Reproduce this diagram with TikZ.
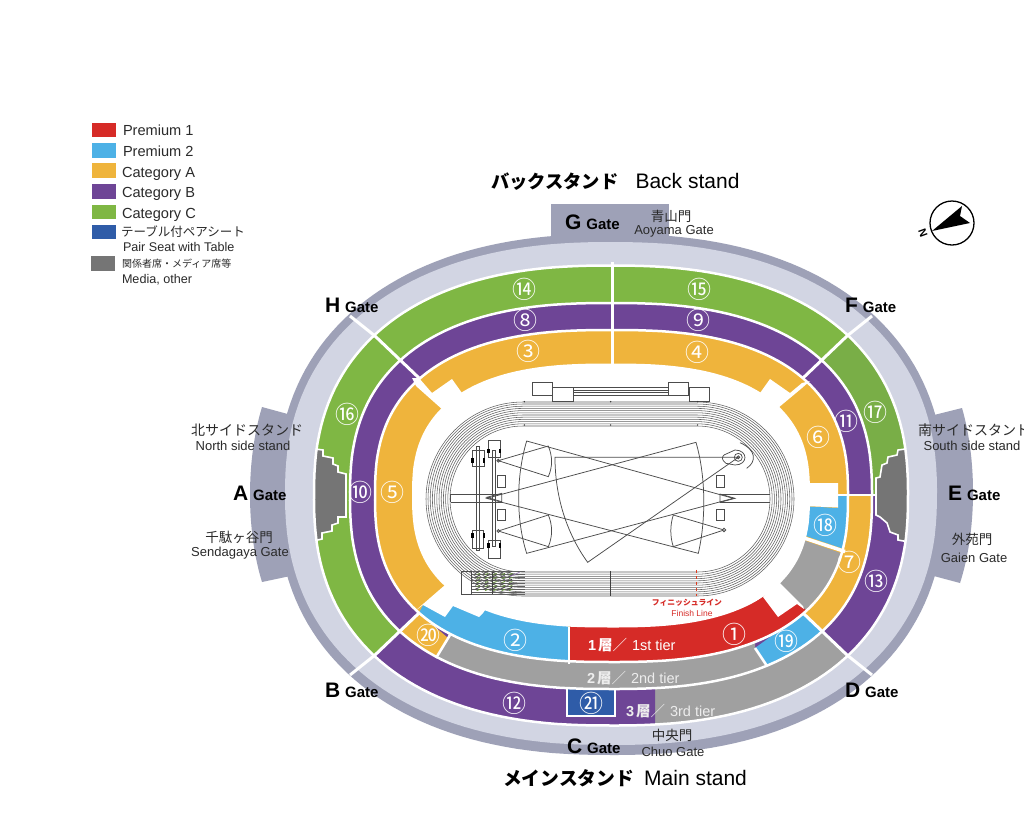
\documentclass[tikz,border=0pt]{standalone}
\usepackage{fontspec}
\setmainfont{Liberation Sans}
\newfontfamily\jp{Noto Sans CJK JP}
\definecolor{cRed}{HTML}{D62B27}
\definecolor{cBlue}{HTML}{4DB1E6}
\definecolor{cYel}{HTML}{EFB43C}
\definecolor{cPur}{HTML}{6E4596}
\definecolor{cGrn}{HTML}{7FB744}
\definecolor{cGrnB}{HTML}{79AE47}
\definecolor{cGry}{HTML}{A0A0A0}
\definecolor{cPair}{HTML}{2F5CA8}
\definecolor{cMed}{HTML}{757575}
\definecolor{cLight}{HTML}{D2D5E3}
\definecolor{cDark}{HTML}{9EA1B7}
\definecolor{cTxt}{HTML}{2A2A2A}
\newcommand\ovalpath[5]{plot[domain=0.5:360.5,samples=181,variable=\t]
  ({#1+#3*(cos(\t)<0?-1:1)*abs(cos(\t))^(2/#5)},{#2-#4*(sin(\t)<0?-1:1)*abs(sin(\t))^(2/#5)}) -- cycle}
\newcommand\fs[1]{\fontsize{#1}{#1}\selectfont}
\newcommand\gatetext[1]{{\fs{21}\bfseries #1}\hspace{5pt}{\fs{15}\bfseries Gate}}
\tikzset{
  lbl/.style={inner sep=0pt,outer sep=0pt,text=cTxt},
  num/.style={inner sep=0pt,outer sep=0pt,text=white,font=\jp\fs{24}},
  tier/.style={inner sep=0pt,outer sep=0pt,text=white},
  gatelbl/.style={inner sep=0pt,outer sep=0pt,anchor=base west,text=black},
  sep/.style={draw=white,line width=3pt},
  fieldline/.style={draw=black!70,line width=0.75pt},
  lane/.style={draw=black!62,line width=0.55pt},
}
\begin{document}
\begin{tikzpicture}[x=1pt,y=-1pt]
\useasboundingbox (0,0) rectangle (1024,831);
\fill[white] (0,0) rectangle (1024,831);
% ---- outer band and gates
\fill[cDark] \ovalpath{611}{494.5}{334}{260.5}{2.3};
\fill[cDark] (551,204) -- (669,204) -- (669,240) -- (551,240) -- cycle;
\fill[cDark] (262,407) -- (295,416) -- (295,575) -- (262,582) .. controls (246,530) and (246,460) .. cycle;
\fill[cDark] (962,408) -- (930,416) -- (930,575) -- (960,583) .. controls (977,530) and (977,460) .. cycle;
\fill[cLight] \ovalpath{611}{493.5}{326}{251.5}{2.3};
% ---- third tier
\begin{scope}
\clip \ovalpath{611}{495.5}{297}{230}{2.4};
\fill[cGrn] (280,240) rectangle (940,750);
\fill[cGrnB] (803,378) -- (872,316) -- (950,400) -- (950,495) -- (840,495) -- cycle;
\fill[cPur] (840,495) -- (950,495) -- (950,730) -- (872,675) -- (847,655) -- (803,613) -- cycle;
\fill[cGry] (655,600) -- (803,613) -- (847,655) -- (872,675) -- (900,780) -- (655,780) -- cycle;
\fill[cPur] (655,600) -- (655,780) -- (350,780) -- (350,675) -- (375,655) -- (419,613) -- cycle;
\filldraw[fill=cMed,draw=white,line width=1.6pt] (300,447) -- (323,450) -- (323,456) -- (333,458) -- (333,464) -- (338,466) -- (338,472) -- (346,474) -- (346,517) -- (338,517) -- (338,523) -- (332,525) -- (332,531) -- (322,533) -- (322,539) -- (300,544) -- cycle;
\filldraw[fill=cMed,draw=white,line width=1.6pt] (920,447) -- (898,450) -- (897,455) -- (888,457) -- (887,463) -- (882,465) -- (880,477) -- (876,478) -- (876,515) -- (880,517) -- (887,523) -- (890,532) -- (898,535) -- (898,540) -- (920,544) -- cycle;
\filldraw[fill=cPair,draw=white,line width=2pt] (567,680) rectangle (615,716);
\end{scope}
\draw[white,line width=2.5pt] \ovalpath{611}{495.5}{297}{230}{2.4};
% ---- second tier
\begin{scope}
\clip \ovalpath{611}{496}{261}{193}{2.5};
\fill[cPur] (340,290) rectangle (880,700);
\fill[cYel] (830,496) -- (900,496) -- (900,700) -- (818,628) -- (803,613) -- cycle;
\fill[cBlue] (803,613) -- (818,628) -- (847,655) -- (780,690) -- (767,666) -- (755,648) -- cycle;
\fill[cYel] (419,613) -- (375,655) -- (425,700) -- (438,655) -- (448,638) -- cycle;
\fill[cGry] (755,620) -- (755,648) -- (767,666) -- (780,700) -- (425,700) -- (438,655) -- (448,638) -- (448,620) -- cycle;
\end{scope}
\draw[white,line width=2.5pt] \ovalpath{611}{496}{261}{193}{2.5};
% ---- first tier
\begin{scope}
\clip \ovalpath{611.5}{496}{236.5}{166}{2.55};
\fill[cYel] (370,325) rectangle (855,670);
\fill[cBlue] (568,590) -- (568,675) -- (400,675) -- (419,613) -- (423,605) -- (445,590) -- cycle;
\fill[cRed] (570,590) -- (800,590) -- (812,620) -- (750,690) -- (570,690) -- cycle;
\fill[cBlue] (800,506) -- (838,508) -- (838,496) -- (852,496) -- (852,550) -- (841,548) -- (803,535) -- cycle;
\fill[cGry] (800,539) -- (838,552) -- (852,558) -- (806,610) -- (770,575) -- cycle;
\end{scope}
\draw[white,line width=2.5pt] \ovalpath{611.5}{496}{236.5}{166}{2.55};
% ---- inner white field and cut-outs
\fill[white] \ovalpath{611}{495.5}{199}{132}{2.6};
\fill[white] (412,378) -- (419,378) -- (432,393) -- (452,379) -- (462,393) -- (480,400) -- (445,415) -- (443,410) -- (416,386) -- cycle;
\fill[white] (810,381) -- (802,383) -- (790,393) -- (770,379) -- (760,393) -- (745,400) -- (770,420) -- (778,408) -- (802,388) -- cycle;
\fill[white] (445,585) -- (415,611) -- (423,605) -- (445,617) -- (453,606) -- (479,617) -- (483,613) -- (500,590) -- cycle;
\fill[white] (805,483) -- (838,483) -- (838,507.5) -- (805,506) -- cycle;
\fill[cRed] (735,616) -- (763,597) -- (778,617) -- (760,632) -- cycle;
\fill[white] (763,597) -- (778,617) -- (797,604) -- (804,609) -- (803,606) -- (779,582) -- cycle;
% ---- separators
\coordinate (fa) at (872,316); \coordinate (fb) at (803,378);
\coordinate (ha) at (350,316); \coordinate (hb) at (419,378);
\coordinate (da) at (872,675); \coordinate (db) at (803,613);
\coordinate (ba) at (350,675); \coordinate (bb) at (419,613);
\draw[sep] (fa) -- (847,336) -- (fb);
\draw[sep] (ha) -- (375,336) -- (hb);
\draw[sep] (da) -- (847,655) -- (db);
\draw[sep] (ba) -- (375,655) -- (bb);
\draw[sep] (612.5,262) -- (612.5,366);
\draw[white,line width=2.5pt] (450,635) -- (436,658);
\draw[white,line width=2.5pt] (755,648) -- (767,666);
\draw[white,line width=2.5pt] (569,627) -- (569,664);
\draw[white,line width=2pt] (838,495) -- (876,495);
\draw[white,line width=3.5pt] (801,537) -- (845,551.5);
% ---- track
\foreach \r in {73,75.2,77.4,79.6,81.8,84,86.2,88.4,90.6,92.8,95,97}{
  \draw[lane] (523,499-\r) -- (697,499-\r) arc[start angle=90,end angle=-90,radius=\r pt] -- (523,499+\r) arc[start angle=-90,end angle=-270,radius=\r pt] -- cycle;
}
% ---- field, in reference-crop units
\begin{scope}[shift={(420,370)},x=0.3333pt,y=-0.3333pt]
\draw[fieldline] (338,36) rectangle (398,75);
\draw[fieldline] (398,52) rectangle (460,95);
\draw[fieldline] (745,36) rectangle (805,75);
\draw[fieldline] (808,52) rectangle (868,95);
\foreach \y in {52,60,68,76}{\draw[fieldline,line width=0.4pt] (460,\y) -- (745,\y);}
\draw[fieldline] (92,372) -- (245,372);
\draw[fieldline] (92,397) -- (245,397);
\draw[fieldline] (92,372) -- (92,397);
\draw[fieldline] (900,372) -- (1050,372);
\draw[fieldline] (900,397) -- (1050,397);
\draw[fieldline] (200,382) -- (245,370) -- (245,395) -- cycle;
\draw[fieldline] (900,372) -- (945,385) -- (900,397) -- cycle;
\draw[fieldline] (170,228) rectangle (178,540);
\draw[fieldline] (218,240) rectangle (226,530);
\draw[fieldline] (158,240) rectangle (192,290);
\draw[fieldline] (205,210) rectangle (240,262);
\draw[fieldline] (158,480) rectangle (190,535);
\draw[fieldline] (205,510) rectangle (240,565);
\foreach \p in {(158,272),(192,272),(205,243),(240,243),(158,497),(192,497),(205,527),(240,527)}{
  \fill[black] \p ++(-4,-7) rectangle ++(8,14);
}
\draw[fieldline] (233,317) rectangle (255,352);
\draw[fieldline] (233,417) rectangle (255,452);
\draw[fieldline] (888,317) rectangle (912,352);
\draw[fieldline] (888,417) rectangle (912,452);
% small fans
\draw[fieldline] (235,272) -- (385,228) .. controls (398,260) and (398,290) .. (385,320) -- cycle;
\draw[fieldline] (235,483) -- (385,435) .. controls (398,465) and (398,500) .. (385,530) -- cycle;
\draw[fieldline] (912,480) -- (760,435) .. controls (750,465) and (750,500) .. (760,530) -- cycle;
% big fans
\draw[fieldline] (940,385) -- (320,213) .. controls (288,320) and (288,450) .. (320,550) -- cycle;
\draw[fieldline] (200,385) -- (828,217) .. controls (858,320) and (858,450) .. (835,550) -- cycle;
\draw[fieldline] (955,262) -- (405,262) .. controls (405,380) and (440,490) .. (503,577) -- cycle;
\draw[fieldline] (955,262) circle[radius=4pt];
\draw[fieldline] (955,262) circle[radius=1.5pt];
\draw[fieldline] (912,255) -- (945,240) .. controls (985,240) and (985,285) .. (945,285) -- (918,280) .. controls (905,270) and (905,262) .. (912,255);
\draw[fieldline] (960,218) .. controls (1010,240) and (1010,275) .. (980,295);
\draw[fieldline] (235,272) circle[radius=1.5pt];
\draw[fieldline] (235,483) circle[radius=1.5pt];
\draw[fieldline] (912,480) circle[radius=1.8pt];
% start area
\draw[fieldline] (125,605) rectangle (155,672);
\foreach \y in {605,613,622,631,640,649,658,666,672}{\draw[lane] (155,\y) -- (315,\y);}
\foreach \x in {165,190,215,240,262}{\foreach \y in {610,622,634,646,658}{
  \draw[black!70,line width=0.8pt] (\x,\y) -- ++(14,-6);
  \draw[cGrn!80!black,line width=0.7pt] (\x+5,\y+4) -- ++(10,-4);
}}
\draw[cPur!70,line width=0.6pt] (270,620) -- (300,606);
\draw[black!75,line width=0.9pt] (572,603) -- (572,678);
\draw[black!75,line width=0.8pt] (218,605) -- (218,672);
\draw[cRed!80!orange,line width=0.8pt,dashed] (830,600) -- (830,678);
\foreach \x in {313,572,833}{\fill[black!80] (\x,95) circle[radius=0.8pt]; \fill[black!80] (\x,165) circle[radius=0.8pt];}
\end{scope}
% ---- seat numbers
\node[num] (s1) at (734,634) {①};
\node[num] (s2) at (515,640) {②};
\node[num] (s3) at (528,351) {③};
\node[num] (s4) at (697,352) {④};
\node[num] (s5) at (392,492) {⑤};
\node[num] (s6) at (818,437) {⑥};
\node[num] (s7) at (849,562) {⑦};
\node[num] (s8) at (525,320) {⑧};
\node[num] (s9) at (698,320) {⑨};
\node[num] (s10) at (360,492) {⑩};
\node[num] (s11) at (846,421) {⑪};
\node[num] (s12) at (514,703) {⑫};
\node[num] (s13) at (876,581) {⑬};
\node[num] (s14) at (524,289) {⑭};
\node[num] (s15) at (699,289) {⑮};
\node[num] (s16) at (347,414) {⑯};
\node[num] (s17) at (875,412) {⑰};
\node[num] (s18) at (825,525) {⑱};
\node[num] (s19) at (786,641) {⑲};
\node[num] (s20) at (428,635) {⑳};
\node[num] (s21) at (591,703) {㉑};
% ---- tier labels
\node[tier,anchor=base west] (t1) at (588,650) {\fs{14.5}\textbf{1}\hspace{2pt}{\jp\bfseries 層}{\jp ／}\hspace{5pt}1st tier};
\node[tier,anchor=base west,text=white!93!black] (t2) at (587,683) {\fs{14.5}\textbf{2}\hspace{2pt}{\jp\bfseries 層}{\jp ／}\hspace{5pt}2nd tier};
\node[tier,anchor=base west,text=white!93!black] (t3) at (626,716) {\fs{14.5}\textbf{3}\hspace{2pt}{\jp\bfseries 層}{\jp ／}\hspace{5pt}3rd tier};
% ---- finish line
\node[lbl,text=cRed] (f1) at (687,603) {\jp\bfseries\fs{7.8}フィニッシュライン};
\node[lbl,text=cRed] (f2) at (692,613) {\fs{8.5}Finish Line};
% ---- titles
\node[lbl,text=black,anchor=base west] (back) at (491,188) {\jp\bfseries\fs{18.3}バックスタンド\hspace{17pt}{\rmfamily\mdseries\fs{21}Back stand}};
\node[lbl,text=black,anchor=base west] (main) at (503,785) {\jp\bfseries\fs{18.8}メインスタンド\hspace{10pt}{\rmfamily\mdseries\fs{21}Main stand}};
% ---- gates
\node[gatelbl] (gG) at (565,229) {\gatetext{G}};
\node[gatelbl] (gH) at (325,312) {\gatetext{H}};
\node[gatelbl] (gF) at (845,312) {\gatetext{F}};
\node[gatelbl] (gA) at (233,500) {\gatetext{A}};
\node[gatelbl] (gE) at (948,500) {\gatetext{E}};
\node[gatelbl] (gB) at (325,697) {\gatetext{B}};
\node[gatelbl] (gD) at (845,697) {\gatetext{D}};
\node[gatelbl] (gC) at (567,753) {\gatetext{C}};
% ---- gate names
\node[lbl] (n1) at (671,216) {\jp\fs{13.5}青山門};
\node[lbl] (n2) at (674,231) {\fs{13}Aoyama Gate};
\node[lbl] (n3) at (247,430) {\jp\fs{14}北サイドスタンド};
\node[lbl] (n4) at (243,446) {\fs{13}North side stand};
\node[lbl] (n5) at (239,537) {\jp\fs{13.5}千駄ヶ谷門};
\node[lbl] (n6) at (240,553) {\fs{13}Sendagaya Gate};
\node[lbl,anchor=west] (n7) at (918,430) {\jp\fs{14}南サイドスタンド};
\node[lbl] (n8) at (972,446) {\fs{13}South side stand};
\node[lbl] (n9) at (972,539) {\jp\fs{13.5}外苑門};
\node[lbl] (n10) at (974,558) {\fs{13}Gaien Gate};
\node[lbl] (n11) at (672,735) {\jp\fs{13.5}中央門};
\node[lbl] (n12) at (673,752) {\fs{13}Chuo Gate};
% ---- legend
\fill[cRed] (92,123) rectangle (116,137);
\fill[cBlue] (92,143) rectangle (116,158);
\fill[cYel] (92,163) rectangle (116,178);
\fill[cPur] (92,184) rectangle (116,199);
\fill[cGrn] (92,205) rectangle (116,219);
\fill[cPair] (92,225) rectangle (116,239);
\fill[cMed] (91,256) rectangle (115,271);
\node[lbl,anchor=base west] (l1) at (123,135) {\fs{14.6}Premium 1};
\node[lbl,anchor=base west] (l2) at (123,156) {\fs{14.6}Premium 2};
\node[lbl,anchor=base west] (l3) at (122,177) {\fs{14.6}Category A};
\node[lbl,anchor=base west] (l4) at (122,197) {\fs{14.6}Category B};
\node[lbl,anchor=base west] (l5) at (122,218) {\fs{14.6}Category C};
\node[lbl,anchor=west] (l6) at (121,232) {\jp\fs{12.5}テーブル付ペアシート};
\node[lbl,anchor=base west] (l7) at (123,251) {\fs{12.6}Pair Seat with Table};
\node[lbl,anchor=west] (l8) at (122,264) {\jp\fs{10}関係者席・メディア席等};
\node[lbl,anchor=base west] (l9) at (122,283) {\fs{12.6}Media, other};
% ---- compass
\draw[black,fill=white,line width=1.3pt] (952,223) circle[radius=22pt];
\fill[black] (932,231) -- (962,206) -- (960,216) -- (970,223) -- cycle;
\node[lbl,text=black,rotate=110] (north) at (923,233) {\fs{11}\textbf{N}};
\end{tikzpicture}
\end{document}
